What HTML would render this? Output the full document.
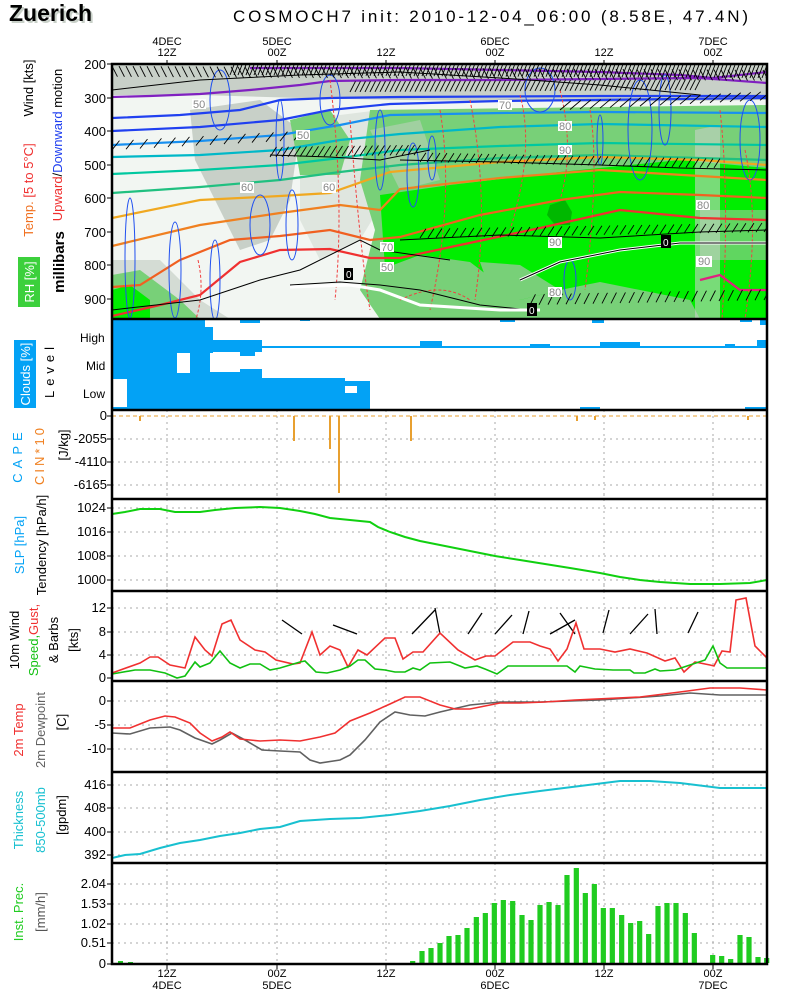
<!DOCTYPE html>
<html><head><meta charset="utf-8"><style>
body{margin:0;background:#fff;width:800px;height:1000px;overflow:hidden}
svg{display:block}
text{font-family:"Liberation Sans",sans-serif}
</style></head><body>
<svg id="s" width="800" height="1000" viewBox="0 0 800 1000" xmlns="http://www.w3.org/2000/svg">
<text x="11" y="23" font-family="Liberation Serif" font-weight="bold" font-size="23" fill="#c8d0c8">Zuerich</text>
<text x="9" y="21" font-family="Liberation Serif" font-weight="bold" font-size="23" fill="#000">Zuerich</text>
<text x="233" y="22" font-size="17" fill="#000" textLength="515">COSMOCH7 init: 2010-12-04_06:00 (8.58E, 47.4N)</text>
<g font-size="11" text-anchor="middle" fill="#000">
<text x="167" y="45">4DEC</text><text x="167" y="56">12Z</text>
<text x="277" y="45">5DEC</text><text x="277" y="56">00Z</text>
<text x="386" y="56">12Z</text>
<text x="495" y="45">6DEC</text><text x="495" y="56">00Z</text>
<text x="604" y="56">12Z</text>
<text x="713" y="45">7DEC</text><text x="713" y="56">00Z</text>
<text x="167" y="977">12Z</text><text x="167" y="989">4DEC</text>
<text x="277" y="977">00Z</text><text x="277" y="989">5DEC</text>
<text x="386" y="977">12Z</text>
<text x="495" y="977">00Z</text><text x="495" y="989">6DEC</text>
<text x="604" y="977">12Z</text>
<text x="713" y="977">00Z</text><text x="713" y="989">7DEC</text>
</g>
<!-- TOP PANEL -->
<clipPath id="cp"><rect x="112" y="64" width="655" height="255"/></clipPath>
<g clip-path="url(#cp)">
<rect x="112" y="64" width="655" height="255" fill="#f2f6f2"/>
<path d="M112,64 L767,64 L767,100 L600,102 L400,100 L300,98 L200,95 L112,95Z" fill="#c8d0c8"/>
<path d="M190,110 L260,100 L300,130 L290,200 L270,240 L240,250 L215,200 L195,160Z" fill="#c8d0c8"/>
<path d="M300,120 L380,110 L390,190 L360,240 L320,260 L300,220Z" fill="#dfe6df"/>
<path d="M112,260 L160,260 L200,300 L230,319 L112,319Z" fill="#d4dcd4"/>
<path d="M112,275 L140,270 L180,300 L200,319 L112,319Z" fill="#78d078"/>
<path d="M370,110 L767,105 L767,319 L380,319 L360,290 L375,230 L360,180Z" fill="#78d078"/>
<path d="M370,130 L420,120 L440,180 L400,190Z" fill="#c8d0c8" opacity="0.5"/>
<path d="M290,120 L330,110 L350,140 L340,175 L300,175Z" fill="#78d078"/>
<path d="M380,195 L450,185 L560,172 L680,160 L767,168 L767,319 L700,319 L690,300 L640,290 L600,282 L560,290 L520,300 L470,262 L420,255 L385,268Z" fill="#00ee00"/>
<path d="M480,262 L520,265 L560,290 L520,300 L490,290Z" fill="#78d078"/>
<path d="M112,290 L130,285 L150,300 L150,319 L112,319Z" fill="#00ee00"/>
<path d="M550,205 L565,200 L572,212 L570,225 L555,225 L547,215Z" fill="#00b800"/>
<path d="M700,210 L767,210 L767,260 L700,260Z" fill="#78d078" opacity="0.8"/>
<path d="M695,130 L720,125 L720,319 L695,319Z" fill="#c8d0c8" opacity="0.6"/>
<g fill="none" stroke-width="2.2">
<polyline stroke="#8020c0" points="250,68 400,68 500,70 600,72 680,75 713,78 767,72"/>
<polyline stroke="#8020c0" points="112,97 150,96 200,94 250,90 300,85 330,81 400,80 500,80 600,79 700,78 767,83"/>
<polyline stroke="#2040f0" points="112,118 180,115 240,110 280,100 330,98 400,97 600,96 767,96"/>
<polyline stroke="#2040f0" points="112,131 200,127 280,120 330,110 390,104 500,101 767,98"/>
<polyline stroke="#1890f0" points="112,145 200,141 280,135 340,125 390,115 500,113 600,112 767,113"/>
<polyline stroke="#00b8c8" points="112,157 200,155 280,150 340,140 400,134 500,127 600,124 767,127"/>
<polyline stroke="#00c8a0" points="112,174 200,170 280,165 340,158 400,150 500,146 600,143 767,145"/>
<polyline stroke="#20c080" points="112,193 200,187 280,180 340,172 400,165 500,158 600,155 767,160"/>
<polyline stroke="#f0a820" points="112,218 200,200 280,196 330,193 390,172 500,162 600,157 700,160 767,165"/>
<polyline stroke="#f08020" points="112,246 200,225 280,213 340,205 380,210 400,189 500,178 600,170 700,176 767,180"/>
<polyline stroke="#f06020" points="112,287 140,285 180,260 230,240 280,236 330,230 370,240 400,237 480,215 560,200 620,192 700,195 767,198"/>
<polyline stroke="#f03030" points="112,316 160,305 200,295 240,262 280,250 330,249 370,258 400,258 460,245 540,228 620,210 700,218 767,220"/>
<polyline stroke="#e02080" points="700,280 720,275 740,290 767,290"/>
</g>
<g fill="none" stroke="#2050f0" stroke-width="1">
<ellipse cx="130" cy="258" rx="5" ry="60"/><ellipse cx="175" cy="270" rx="6" ry="48"/><ellipse cx="215" cy="280" rx="5" ry="40"/>
<ellipse cx="260" cy="225" rx="10" ry="30"/><ellipse cx="292" cy="225" rx="6" ry="35"/><ellipse cx="280" cy="140" rx="4" ry="40"/>
<ellipse cx="380" cy="150" rx="5" ry="40"/><ellipse cx="413" cy="175" rx="6" ry="32"/><ellipse cx="432" cy="158" rx="4" ry="22"/>
<ellipse cx="570" cy="280" rx="6" ry="20"/><ellipse cx="600" cy="140" rx="3" ry="25"/><ellipse cx="640" cy="130" rx="12" ry="50"/>
<ellipse cx="665" cy="110" rx="6" ry="35"/><ellipse cx="750" cy="140" rx="10" ry="40"/><ellipse cx="220" cy="100" rx="10" ry="30"/>
<ellipse cx="330" cy="100" rx="10" ry="25"/><ellipse cx="540" cy="90" rx="15" ry="22"/>
</g>
<g fill="none" stroke="#f04040" stroke-width="1" stroke-dasharray="3,2">
<path d="M330,80 Q345,200 335,300"/><path d="M350,120 Q360,250 370,310"/><path d="M440,110 Q455,200 430,310"/>
<path d="M470,100 Q490,200 475,300"/><path d="M520,95 Q535,150 510,230"/><path d="M590,110 Q600,170 585,290"/>
<path d="M720,110 Q730,200 722,319"/><path d="M745,150 Q760,220 745,319"/><path d="M198,260 Q205,290 196,319"/>
<path d="M400,300 Q440,280 470,300"/><path d="M560,90 Q575,150 560,200"/>
</g>
<g stroke="#000" stroke-width="1" fill="none">
<polyline points="270,155 330,157 380,160 430,150"/>
<polyline points="400,160 500,162 600,165 680,168 767,170"/>
<polyline points="400,240 500,235 600,238 700,232 767,230"/>
<polyline points="290,285 340,282 380,285 420,290 480,305 530,310"/>
<polyline points="112,90 200,80 300,75 400,72 500,78 600,85 700,95"/>
<polyline stroke="#fff" stroke-width="3" points="290,287 350,285 380,290 420,305 500,310 540,310"/>
<polyline stroke="#fff" stroke-width="3" points="520,280 560,262 620,250 680,243 767,243"/>
<polyline stroke-width="1" points="520,280 560,262 620,250 680,243 767,243"/>
<polyline points="112,310 200,300 260,280 300,270 360,240 380,250 450,260"/>
</g>
<g id="hatch" stroke="#000" stroke-width="0.9"></g>
<g font-size="11" fill="#888">
<rect x="192" y="99" width="14" height="10" fill="#fff"/><text x="193" y="108">50</text>
<rect x="296" y="130" width="14" height="10" fill="#fff"/><text x="297" y="139">50</text>
<rect x="240" y="182" width="14" height="11" fill="#fff"/><text x="241" y="191">60</text>
<rect x="322" y="182" width="14" height="11" fill="#fff"/><text x="323" y="191">60</text>
<rect x="558" y="121" width="14" height="10" fill="#fff"/><text x="559" y="130">80</text>
<rect x="558" y="145" width="14" height="10" fill="#fff"/><text x="559" y="154">90</text>
<rect x="548" y="237" width="14" height="11" fill="#fff"/><text x="549" y="246">90</text>
<rect x="696" y="256" width="16" height="11" fill="#fff"/><text x="698" y="265">90</text>
<rect x="696" y="200" width="14" height="10" fill="#fff"/><text x="697" y="209">80</text>
<rect x="380" y="242" width="14" height="10" fill="#fff"/><text x="381" y="251">70</text>
<rect x="380" y="262" width="14" height="10" fill="#fff"/><text x="381" y="271">50</text>
<rect x="548" y="287" width="14" height="10" fill="#fff"/><text x="549" y="296">80</text>
<rect x="498" y="100" width="14" height="10" fill="#fff"/><text x="499" y="109">70</text>
</g>
<g font-size="10" fill="#fff">
<rect x="344" y="268" width="9" height="12" fill="#000"/><text x="346" y="278">0</text>
<rect x="661" y="235" width="10" height="13" fill="#000"/><text x="663" y="246">0</text>
<rect x="527" y="303" width="10" height="13" fill="#000"/><text x="529" y="314">0</text>
</g>
</g>
<!-- CLOUDS -->
<g fill="#03a2f5">
<rect x="112" y="319" width="51" height="60"/><rect x="163" y="319" width="42" height="34"/>
<rect x="205" y="327" width="8" height="26"/><rect x="213" y="340" width="49" height="12"/>
<rect x="163" y="353" width="14" height="26"/><rect x="190" y="352" width="20" height="26"/>
<rect x="177" y="373" width="13" height="6"/><rect x="240" y="352" width="15" height="4"/>
<rect x="210" y="372" width="52" height="7"/><rect x="240" y="369" width="22" height="4"/>
<rect x="127" y="378" width="218" height="32"/><rect x="345" y="381" width="25" height="29"/>
<rect x="112" y="407" width="15" height="3"/>
<rect x="262" y="346" width="505" height="2"/>
<rect x="420" y="341" width="22" height="7"/><rect x="530" y="344" width="20" height="4"/><rect x="600" y="342" width="40" height="6"/>
<rect x="725" y="344" width="10" height="4"/><rect x="757" y="340" width="10" height="8"/>
<rect x="240" y="319" width="20" height="4"/><rect x="300" y="319" width="10" height="2"/><rect x="500" y="319" width="15" height="3"/>
<rect x="592" y="319" width="12" height="4"/><rect x="740" y="319" width="12" height="3"/><rect x="760" y="319" width="7" height="6"/>
<rect x="580" y="407" width="20" height="3"/><rect x="745" y="407" width="22" height="3"/>
</g>
<rect x="345" y="386" width="12" height="7" fill="#fff"/>
<!-- grids -->
<g id="grid" stroke="#aaa" stroke-width="1" stroke-dasharray="2,4"></g>
<!-- CAPE -->
<line x1="112" y1="416" x2="767" y2="416" stroke="#e8a030" stroke-dasharray="4,3"/>
<g fill="#e8a030">
<rect x="139" y="416" width="2" height="5"/><rect x="293" y="416" width="2" height="25"/><rect x="329" y="416" width="2" height="33"/>
<rect x="338" y="416" width="2" height="77"/><rect x="410" y="416" width="2" height="25"/><rect x="576" y="416" width="2" height="5"/>
<rect x="594" y="416" width="2" height="4"/><rect x="747" y="416" width="2" height="4"/>
</g>
<!-- SLP -->
<polyline fill="none" stroke="#10d010" stroke-width="2" points="112,514 125,512 140,509 160,509 175,512 200,512 215,510 235,508 260,507 280,508 300,511 315,514 330,518 350,520 370,522 378,527 390,532 405,537 420,541 440,545 460,549 480,553 495,556 520,560 545,564 570,568 600,573 620,577 640,580 660,582 690,584 720,584 750,583 767,580"/>
<!-- WIND -->
<g fill="none" stroke="#000" stroke-width="1.3">
<line x1="282" y1="620" x2="302" y2="634"/><line x1="333" y1="625" x2="357" y2="634"/>
<line x1="412" y1="634" x2="435" y2="610"/><line x1="435" y1="608" x2="440" y2="634"/>
<line x1="468" y1="634" x2="482" y2="613"/><line x1="495" y1="634" x2="512" y2="615"/>
<line x1="523" y1="634" x2="529" y2="611"/><line x1="550" y1="634" x2="575" y2="620"/>
<line x1="560" y1="613" x2="575" y2="634"/><line x1="603" y1="633" x2="609" y2="610"/>
<line x1="630" y1="634" x2="648" y2="614"/><line x1="655" y1="609" x2="657" y2="634"/>
<line x1="688" y1="633" x2="698" y2="612"/>
</g>
<polyline fill="none" stroke="#f03030" stroke-width="1.6" points="112,673 140,663 150,657 158,657 170,665 185,668 195,637 205,650 212,656 222,624 231,620 240,640 255,650 265,652 276,660 293,664 300,663 312,632 320,655 330,646 340,650 348,667 358,650 367,655 385,638 395,638 403,659 413,652 423,652 440,633 458,650 475,660 486,656 495,656 513,642 530,642 540,646 550,649 558,661 567,649 576,623 584,649 600,649 615,652 630,649 647,653 665,661 675,658 684,672 695,662 710,665 714,666 722,651 730,652 736,600 746,598 755,646 767,658"/>
<polyline fill="none" stroke="#10c010" stroke-width="1.6" points="112,674 135,670 150,670 165,673 177,678 185,676 195,662 200,667 210,663 220,651 230,663 240,668 250,664 260,664 270,670 280,668 290,665 300,662 305,661 310,666 316,672 327,673 340,670 350,666 358,660 365,660 375,669 385,670 395,672 405,672 413,668 420,670 430,663 450,662 465,668 477,666 485,669 497,674 508,666 550,666 567,666 575,672 580,666 595,669 613,670 630,670 634,673 645,673 655,669 660,671 675,670 690,665 705,660 713,646 720,663 727,668 767,668"/>
<!-- TEMP -->
<polyline fill="none" stroke="#606060" stroke-width="1.6" points="112,733 130,734 150,728 170,727 180,730 195,738 212,744 220,740 232,733 245,740 262,750 280,751 300,752 310,760 320,763 340,760 350,755 365,740 380,722 395,712 410,715 425,716 440,712 470,705 500,702 540,702 600,700 660,696 690,693 720,695 767,695"/>
<polyline fill="none" stroke="#f03030" stroke-width="1.6" points="112,728 130,728 140,724 150,720 165,716 175,717 190,723 200,733 212,741 222,737 230,732 240,739 260,741 280,740 300,741 320,737 335,733 350,721 370,713 390,704 405,697 420,697 440,705 455,709 470,709 490,705 500,703 520,703 545,702 575,700 640,697 680,692 710,688 740,688 767,690"/>
<!-- THICKNESS -->
<polyline fill="none" stroke="#18c0d0" stroke-width="2" points="112,858 125,855 140,854 160,848 180,843 200,840 220,836 240,833 260,829 280,827 300,821 330,819 360,818 390,815 420,811 450,806 480,800 510,795 540,791 580,786 620,781 650,781 680,783 720,788 767,788"/>
<!-- PRECIP -->
<g id="pr" fill="#20cc20"><rect x="118" y="961" width="5" height="2"/><rect x="128" y="962" width="5" height="1"/></g>
<!-- frames -->
<g fill="none" stroke="#000" stroke-width="2.5">
<rect x="112" y="64" width="655" height="900"/>
<line x1="112" y1="319" x2="767" y2="319"/><line x1="112" y1="410" x2="767" y2="410"/>
<line x1="112" y1="499" x2="767" y2="499"/><line x1="112" y1="591" x2="767" y2="591"/>
<line x1="112" y1="681" x2="767" y2="681"/><line x1="112" y1="772" x2="767" y2="772"/>
<line x1="112" y1="863" x2="767" y2="863"/>
</g>
<g id="ticks" stroke="#000" stroke-width="1"></g>
<g font-size="13" text-anchor="end" fill="#000">
<text x="106" y="69">200</text><text x="106" y="103">300</text><text x="106" y="136">400</text><text x="106" y="170">500</text>
<text x="106" y="203">600</text><text x="106" y="237">700</text><text x="106" y="270">800</text><text x="106" y="304">900</text>
<text x="107" y="420">0</text><text x="107" y="443">-2055</text><text x="107" y="466">-4110</text><text x="107" y="489">-6165</text>
<text x="106" y="512">1024</text><text x="106" y="536">1016</text><text x="106" y="560">1008</text><text x="106" y="584">1000</text>
<text x="106" y="612">12</text><text x="106" y="636">8</text><text x="106" y="659">4</text><text x="106" y="682">0</text>
<text x="106" y="705">0</text><text x="106" y="729">-5</text><text x="106" y="753">-10</text>
<text x="106" y="789">416</text><text x="106" y="812">408</text><text x="106" y="836">400</text><text x="106" y="859">392</text>
<text x="106" y="888">2.04</text><text x="106" y="908">1.53</text><text x="106" y="928">1.02</text><text x="106" y="947">0.51</text><text x="106" y="968">0</text>
</g>
<g font-size="12" fill="#000">
<text x="80" y="342">High</text><text x="86" y="370">Mid</text><text x="83" y="398">Low</text>
</g>
<g font-size="13">
<g transform="translate(33,88) rotate(-90)"><text text-anchor="middle" x="0" y="0">Wind [kts]</text></g>
<g transform="translate(62,145) rotate(-90)"><text text-anchor="middle" x="0" y="0"><tspan fill="#f03030">Upward</tspan>/<tspan fill="#2040f0">Downward</tspan> motion</text></g>
<g transform="translate(33,190) rotate(-90)"><text text-anchor="middle" x="0" y="0"><tspan fill="#f07020">Temp.</tspan> <tspan fill="#f03030">[5 to 5°C]</tspan></text></g>
<g transform="translate(64,262) rotate(-90)"><text text-anchor="middle" x="0" y="0" font-family="Liberation Serif" font-weight="bold" font-size="15">millibars</text></g>
<rect x="18" y="257" width="22" height="50" fill="#3cd03c"/>
<g transform="translate(34,282) rotate(-90)"><text text-anchor="middle" x="0" y="0" fill="#fff">RH [%]</text></g>
<rect x="14" y="340" width="22" height="68" fill="#03a2f5"/>
<g transform="translate(30,374) rotate(-90)"><text text-anchor="middle" x="0" y="0" fill="#fff">Clouds [%]</text></g>
<g transform="translate(54,370) rotate(-90)"><text text-anchor="middle" x="0" y="0" letter-spacing="5">Level</text></g>
<g transform="translate(22,455) rotate(-90)"><text text-anchor="middle" x="0" y="0" fill="#03a2f5" letter-spacing="5">CAPE</text></g>
<g transform="translate(44,455) rotate(-90)"><text text-anchor="middle" x="0" y="0" fill="#f08020" letter-spacing="3">CIN*10</text></g>
<g transform="translate(68,445) rotate(-90)"><text text-anchor="middle" x="0" y="0">[J/kg]</text></g>
<g transform="translate(24,545) rotate(-90)"><text text-anchor="middle" x="0" y="0" fill="#03a2f5">SLP [hPa]</text></g>
<g transform="translate(46,545) rotate(-90)"><text text-anchor="middle" x="0" y="0">Tendency [hPa/h]</text></g>
<g transform="translate(19,640) rotate(-90)"><text text-anchor="middle" x="0" y="0">10m Wind</text></g>
<g transform="translate(38,640) rotate(-90)"><text text-anchor="middle" x="0" y="0"><tspan fill="#10c010">Speed,</tspan><tspan fill="#f03030">Gust,</tspan></text></g>
<g transform="translate(58,640) rotate(-90)"><text text-anchor="middle" x="0" y="0">&amp; Barbs</text></g>
<g transform="translate(78,640) rotate(-90)"><text text-anchor="middle" x="0" y="0">[kts]</text></g>
<g transform="translate(23,730) rotate(-90)"><text text-anchor="middle" x="0" y="0" fill="#f03030">2m Temp</text></g>
<g transform="translate(45,730) rotate(-90)"><text text-anchor="middle" x="0" y="0" fill="#606060">2m Dewpoint</text></g>
<g transform="translate(66,722) rotate(-90)"><text text-anchor="middle" x="0" y="0">[C]</text></g>
<g transform="translate(23,820) rotate(-90)"><text text-anchor="middle" x="0" y="0" fill="#18c0d0">Thickness</text></g>
<g transform="translate(45,820) rotate(-90)"><text text-anchor="middle" x="0" y="0" fill="#18c0d0">850-500mb</text></g>
<g transform="translate(66,815) rotate(-90)"><text text-anchor="middle" x="0" y="0">[gpdm]</text></g>
<g transform="translate(23,912) rotate(-90)"><text text-anchor="middle" x="0" y="0" fill="#20cc20">Inst. Prec.</text></g>
<g transform="translate(45,912) rotate(-90)"><text text-anchor="middle" x="0" y="0" fill="#555">[mm/h]</text></g>
</g>
</svg>
<script>
var NS="http://www.w3.org/2000/svg";
function el(p,t,a){var e=document.createElementNS(NS,t);for(var k in a)e.setAttribute(k,a[k]);p.appendChild(e);return e;}
var xs=[167,277,386,495,604,713];
var g=document.getElementById("grid");
var panels=[[416,499],[499,591],[591,681],[681,772],[772,863],[863,964]];
panels.forEach(function(p){xs.forEach(function(x){el(g,"line",{x1:x,y1:p[0]-6,x2:x,y2:p[1]});});});
[439,462,485,508,532,556,580,608,632,655,701,725,749,785,808,832,855,884,904,924,943].forEach(function(y){el(g,"line",{x1:112,y1:y,x2:767,y2:y});});
var t=document.getElementById("ticks");
xs.forEach(function(x){el(t,"line",{x1:x,y1:60,x2:x,y2:64});el(t,"line",{x1:x,y1:964,x2:x,y2:969});});
var ty=[64,98,131,165,198,232,265,299,416,439,462,485,508,532,556,580,608,632,655,678,701,725,749,785,808,832,855,884,904,924,943,964];
ty.forEach(function(y){el(t,"line",{x1:107,y1:y,x2:112,y2:y});});
var zx=[38,66,93,120,147,174,201,229,256,283,310,338,366,393,420,447,474,501,529,556,583,610,637,665,692,719,746,774,801,828,856,883,938,965,992,1020,1047,1074,1100];
var zy=[303,273,264,249,228,225,204,171,159,129,120,123,165,180,135,126,135,45,24,99,72,144,144,165,189,183,222,138,129,129,159,219,285,288,297,225,231,291,294];
var pr=document.getElementById("pr");
for(var i=0;i<zx.length;i++){var x=400+zx[i]/3,y=860+zy[i]/3;el(pr,"rect",{x:x-2.6,y:y,width:5.2,height:963-y});}
var h=document.getElementById("hatch");
function row(x0,x1,y0,y1,step,len,ang){for(var x=x0;x<x1;x+=step){var y=y0+(y1-y0)*(x-x0)/(x1-x0);el(h,"line",{x1:x,y1:y,x2:x+len*Math.cos(ang),y2:y-len*Math.sin(ang)});}}
row(230,767,75,78,4,14,1.2);row(112,767,66,70,7,12,-1.1);row(350,700,92,90,5,12,1.1);
row(270,420,157,155,6,12,1.0);row(420,720,162,168,7,11,1.0);row(420,767,238,232,8,11,1.0);
row(530,767,305,300,9,12,1.1);row(112,300,150,140,14,12,0.9);row(560,767,110,100,10,14,0.7);
</script>
</body></html>
